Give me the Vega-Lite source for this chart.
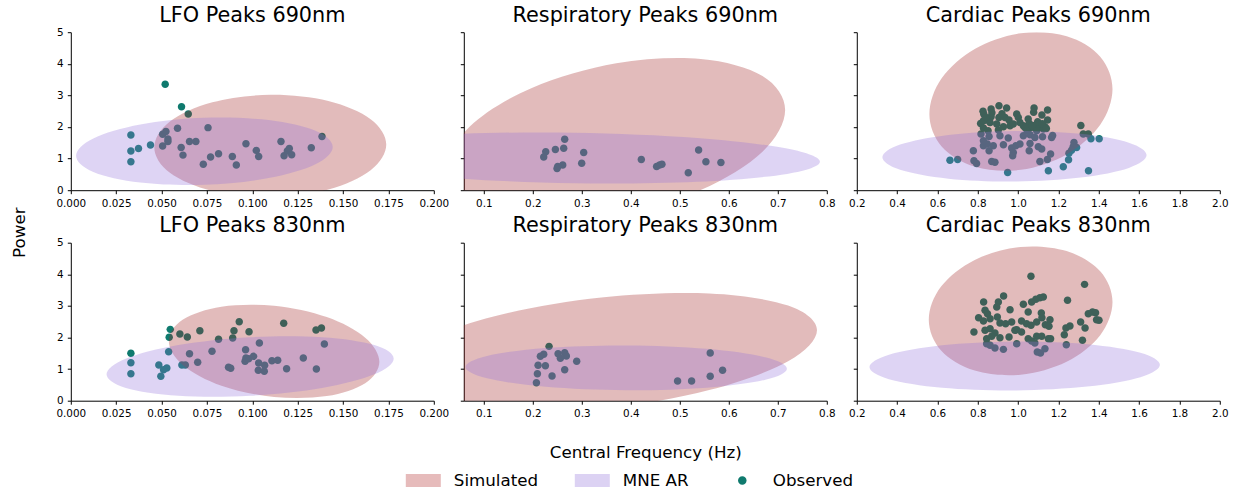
{
  "$schema": "https://vega.github.io/schema/vega-lite/v6.json",
  "background": "white",
  "padding": {"left": 10.8, "top": 4.2, "right": 5, "bottom": 5},
  "datasets": {
    "pts": [
      {"panel":"L690","kind":"Observed","x":0.052,"y":3.35},{"panel":"L690","kind":"Observed","x":0.061,"y":2.64},{"panel":"L690","kind":"Observed","x":0.0647,"y":2.41},{"panel":"L690","kind":"Observed","x":0.0331,"y":1.75},{"panel":"L690","kind":"Observed","x":0.0331,"y":1.24},{"panel":"L690","kind":"Observed","x":0.0331,"y":0.9},{"panel":"L690","kind":"Observed","x":0.0373,"y":1.32},{"panel":"L690","kind":"Observed","x":0.0439,"y":1.43},{"panel":"L690","kind":"Observed","x":0.0506,"y":1.77},{"panel":"L690","kind":"Observed","x":0.0524,"y":1.86},{"panel":"L690","kind":"Observed","x":0.0535,"y":1.62},{"panel":"L690","kind":"Observed","x":0.0535,"y":1.54},{"panel":"L690","kind":"Observed","x":0.0506,"y":1.4},{"panel":"L690","kind":"Observed","x":0.0588,"y":1.96},{"panel":"L690","kind":"Observed","x":0.0608,"y":1.35},{"panel":"L690","kind":"Observed","x":0.0618,"y":1.11},{"panel":"L690","kind":"Observed","x":0.0654,"y":1.54},{"panel":"L690","kind":"Observed","x":0.0689,"y":1.54},{"panel":"L690","kind":"Observed","x":0.0756,"y":1.98},{"panel":"L690","kind":"Observed","x":0.073,"y":0.82},{"panel":"L690","kind":"Observed","x":0.077,"y":1.05},{"panel":"L690","kind":"Observed","x":0.0814,"y":1.15},{"panel":"L690","kind":"Observed","x":0.089,"y":1.07},{"panel":"L690","kind":"Observed","x":0.0912,"y":0.8},{"panel":"L690","kind":"Observed","x":0.0965,"y":1.47},{"panel":"L690","kind":"Observed","x":0.1022,"y":1.26},{"panel":"L690","kind":"Observed","x":0.1035,"y":1.07},{"panel":"L690","kind":"Observed","x":0.1158,"y":1.54},{"panel":"L690","kind":"Observed","x":0.1175,"y":1.09},{"panel":"L690","kind":"Observed","x":0.1193,"y":1.24},{"panel":"L690","kind":"Observed","x":0.1204,"y":1.32},{"panel":"L690","kind":"Observed","x":0.1217,"y":1.12},{"panel":"L690","kind":"Observed","x":0.1325,"y":1.34},{"panel":"L690","kind":"Observed","x":0.1384,"y":1.7},
      {"panel":"R690","kind":"Observed","x":0.2651,"y":1.61},{"panel":"R690","kind":"Observed","x":0.2631,"y":1.33},{"panel":"R690","kind":"Observed","x":0.2461,"y":1.29},{"panel":"R690","kind":"Observed","x":0.2264,"y":1.22},{"panel":"R690","kind":"Observed","x":0.2223,"y":1.05},{"panel":"R690","kind":"Observed","x":0.3039,"y":1.19},{"panel":"R690","kind":"Observed","x":0.2998,"y":0.85},{"panel":"R690","kind":"Observed","x":0.2611,"y":0.8},{"panel":"R690","kind":"Observed","x":0.2509,"y":0.75},{"panel":"R690","kind":"Observed","x":0.2495,"y":0.69},{"panel":"R690","kind":"Observed","x":0.4215,"y":0.97},{"panel":"R690","kind":"Observed","x":0.4527,"y":0.75},{"panel":"R690","kind":"Observed","x":0.4588,"y":0.8},{"panel":"R690","kind":"Observed","x":0.4636,"y":0.82},{"panel":"R690","kind":"Observed","x":0.5173,"y":0.55},{"panel":"R690","kind":"Observed","x":0.5384,"y":1.27},{"panel":"R690","kind":"Observed","x":0.5533,"y":0.9},{"panel":"R690","kind":"Observed","x":0.5839,"y":0.88},
      {"panel":"C690","kind":"Observed","x":0.662,"y":0.951},{"panel":"C690","kind":"Observed","x":0.7,"y":0.973},{"panel":"C690","kind":"Observed","x":0.948,"y":0.56},{"panel":"C690","kind":"Observed","x":1.15,"y":0.613},{"panel":"C690","kind":"Observed","x":1.224,"y":0.74},{"panel":"C690","kind":"Observed","x":1.25,"y":0.962},{"panel":"C690","kind":"Observed","x":1.349,"y":0.613},{"panel":"C690","kind":"Observed","x":1.361,"y":1.628},{"panel":"C690","kind":"Observed","x":1.402,"y":1.628},
      {"panel":"C690","kind":"Observed","x":0.905,"y":2.674},{"panel":"C690","kind":"Observed","x":0.943,"y":2.6},{"panel":"C690","kind":"Observed","x":0.866,"y":2.569},{"panel":"C690","kind":"Observed","x":0.826,"y":2.495},{"panel":"C690","kind":"Observed","x":1.079,"y":2.6},{"panel":"C690","kind":"Observed","x":1.077,"y":2.463},{"panel":"C690","kind":"Observed","x":1.146,"y":2.537},{"panel":"C690","kind":"Observed","x":1.118,"y":2.378},{"panel":"C690","kind":"Observed","x":0.905,"y":2.304},{"panel":"C690","kind":"Observed","x":0.935,"y":2.304},{"panel":"C690","kind":"Observed","x":0.955,"y":2.22},{"panel":"C690","kind":"Observed","x":0.993,"y":2.41},{"panel":"C690","kind":"Observed","x":1.001,"y":2.304},{"panel":"C690","kind":"Observed","x":0.866,"y":2.326},{"panel":"C690","kind":"Observed","x":0.844,"y":2.22},{"panel":"C690","kind":"Observed","x":0.814,"y":2.114},{"panel":"C690","kind":"Observed","x":0.828,"y":2.199},{"panel":"C690","kind":"Observed","x":0.861,"y":2.146},{"panel":"C690","kind":"Observed","x":0.894,"y":2.093},{"panel":"C690","kind":"Observed","x":0.96,"y":2.04},{"panel":"C690","kind":"Observed","x":1.009,"y":2.146},{"panel":"C690","kind":"Observed","x":1.026,"y":2.04},{"panel":"C690","kind":"Observed","x":1.055,"y":2.114},{"panel":"C690","kind":"Observed","x":1.064,"y":1.987},{"panel":"C690","kind":"Observed","x":1.083,"y":2.04},{"panel":"C690","kind":"Observed","x":1.108,"y":2.008},{"panel":"C690","kind":"Observed","x":1.133,"y":2.008},{"panel":"C690","kind":"Observed","x":1.146,"y":2.22},{"panel":"C690","kind":"Observed","x":1.097,"y":2.167},{"panel":"C690","kind":"Observed","x":1.034,"y":1.987},{"panel":"C690","kind":"Observed","x":0.828,"y":1.966},{"panel":"C690","kind":"Observed","x":0.851,"y":1.882},{"panel":"C690","kind":"Observed","x":0.902,"y":1.903},{"panel":"C690","kind":"Observed","x":0.927,"y":2.008},{"panel":"C690","kind":"Observed","x":1.311,"y":2.051},{"panel":"C690","kind":"Observed","x":1.323,"y":1.776},{"panel":"C690","kind":"Observed","x":1.348,"y":1.776},{"panel":"C690","kind":"Observed","x":0.976,"y":2.093},{"panel":"C690","kind":"Observed","x":1.045,"y":1.882},{"panel":"C690","kind":"Observed","x":1.092,"y":1.882},{"panel":"C690","kind":"Observed","x":1.125,"y":1.934},{"panel":"C690","kind":"Observed","x":0.83,"y":2.4},{"panel":"C690","kind":"Observed","x":0.84,"y":2.3},{"panel":"C690","kind":"Observed","x":0.87,"y":2.45},{"panel":"C690","kind":"Observed","x":0.92,"y":2.42},{"panel":"C690","kind":"Observed","x":1.05,"y":2.25},{"panel":"C690","kind":"Observed","x":1.12,"y":2.1},{"panel":"C690","kind":"Observed","x":1.14,"y":1.95},{"panel":"C690","kind":"Observed","x":1.07,"y":2.05},
      {"panel":"C690","kind":"Observed","x":0.816,"y":1.776},{"panel":"C690","kind":"Observed","x":0.856,"y":1.702},{"panel":"C690","kind":"Observed","x":0.951,"y":1.649},{"panel":"C690","kind":"Observed","x":1.026,"y":1.723},{"panel":"C690","kind":"Observed","x":1.059,"y":1.755},{"panel":"C690","kind":"Observed","x":1.083,"y":1.67},{"panel":"C690","kind":"Observed","x":1.121,"y":1.691},{"panel":"C690","kind":"Observed","x":1.166,"y":1.67},{"panel":"C690","kind":"Observed","x":1.171,"y":1.734},{"panel":"C690","kind":"Observed","x":1.277,"y":1.512},{"panel":"C690","kind":"Observed","x":1.273,"y":1.374},{"panel":"C690","kind":"Observed","x":1.29,"y":1.353},{"panel":"C690","kind":"Observed","x":1.265,"y":1.268},{"panel":"C690","kind":"Observed","x":1.252,"y":1.173},{"panel":"C690","kind":"Observed","x":0.828,"y":1.406},{"panel":"C690","kind":"Observed","x":0.847,"y":1.459},{"panel":"C690","kind":"Observed","x":0.877,"y":1.406},{"panel":"C690","kind":"Observed","x":0.856,"y":1.247},{"panel":"C690","kind":"Observed","x":0.778,"y":1.247},{"panel":"C690","kind":"Observed","x":0.927,"y":1.438},{"panel":"C690","kind":"Observed","x":0.968,"y":1.332},{"panel":"C690","kind":"Observed","x":0.989,"y":1.406},{"panel":"C690","kind":"Observed","x":1.009,"y":1.459},{"panel":"C690","kind":"Observed","x":1.059,"y":1.48},{"panel":"C690","kind":"Observed","x":1.1,"y":1.374},{"panel":"C690","kind":"Observed","x":1.117,"y":1.3},{"panel":"C690","kind":"Observed","x":1.055,"y":1.247},{"panel":"C690","kind":"Observed","x":0.976,"y":1.195},{"panel":"C690","kind":"Observed","x":0.973,"y":1.089},{"panel":"C690","kind":"Observed","x":0.781,"y":0.93},{"panel":"C690","kind":"Observed","x":0.794,"y":0.846},{"panel":"C690","kind":"Observed","x":0.869,"y":0.909},{"panel":"C690","kind":"Observed","x":0.885,"y":0.888},{"panel":"C690","kind":"Observed","x":1.108,"y":0.909},{"panel":"C690","kind":"Observed","x":1.145,"y":0.973},{"panel":"C690","kind":"Observed","x":1.161,"y":1.142},{"panel":"C690","kind":"Observed","x":0.828,"y":1.564},{"panel":"C690","kind":"Observed","x":0.91,"y":1.723},
      {"panel":"L830","kind":"Observed","x":0.0331,"y":1.498},{"panel":"L830","kind":"Observed","x":0.0331,"y":1.203},{"panel":"L830","kind":"Observed","x":0.0331,"y":0.854},{"panel":"L830","kind":"Observed","x":0.0548,"y":2.257},{"panel":"L830","kind":"Observed","x":0.0542,"y":2.004},{"panel":"L830","kind":"Observed","x":0.0601,"y":2.11},{"panel":"L830","kind":"Observed","x":0.0642,"y":2.015},{"panel":"L830","kind":"Observed","x":0.0711,"y":2.215},{"panel":"L830","kind":"Observed","x":0.0814,"y":1.941},{"panel":"L830","kind":"Observed","x":0.0892,"y":1.983},{"panel":"L830","kind":"Observed","x":0.0899,"y":2.215},{"panel":"L830","kind":"Observed","x":0.0928,"y":2.5},{"panel":"L830","kind":"Observed","x":0.0982,"y":2.184},{"panel":"L830","kind":"Observed","x":0.1173,"y":2.447},{"panel":"L830","kind":"Observed","x":0.1351,"y":2.236},{"panel":"L830","kind":"Observed","x":0.1381,"y":2.3},{"panel":"L830","kind":"Observed","x":0.1397,"y":1.793},{"panel":"L830","kind":"Observed","x":0.0539,"y":1.551},{"panel":"L830","kind":"Observed","x":0.0485,"y":1.129},{"panel":"L830","kind":"Observed","x":0.0529,"y":1.034},{"panel":"L830","kind":"Observed","x":0.0511,"y":0.981},{"panel":"L830","kind":"Observed","x":0.0496,"y":0.77},{"panel":"L830","kind":"Observed","x":0.0612,"y":1.129},{"panel":"L830","kind":"Observed","x":0.0631,"y":1.129},{"panel":"L830","kind":"Observed","x":0.0654,"y":1.487},{"panel":"L830","kind":"Observed","x":0.0699,"y":1.213},{"panel":"L830","kind":"Observed","x":0.0778,"y":1.561},{"panel":"L830","kind":"Observed","x":0.0869,"y":1.055},{"panel":"L830","kind":"Observed","x":0.0881,"y":1.023},{"panel":"L830","kind":"Observed","x":0.0963,"y":1.614},{"panel":"L830","kind":"Observed","x":0.0965,"y":1.35},{"panel":"L830","kind":"Observed","x":0.096,"y":1.245},{"panel":"L830","kind":"Observed","x":0.098,"y":1.329},{"panel":"L830","kind":"Observed","x":0.1007,"y":1.403},{"panel":"L830","kind":"Observed","x":0.1039,"y":1.825},{"panel":"L830","kind":"Observed","x":0.1035,"y":1.192},{"panel":"L830","kind":"Observed","x":0.1033,"y":0.96},{"panel":"L830","kind":"Observed","x":0.1068,"y":1.118},{"panel":"L830","kind":"Observed","x":0.1066,"y":0.928},{"panel":"L830","kind":"Observed","x":0.1108,"y":1.266},{"panel":"L830","kind":"Observed","x":0.114,"y":1.276},{"panel":"L830","kind":"Observed","x":0.1189,"y":1.013},{"panel":"L830","kind":"Observed","x":0.1281,"y":1.35},{"panel":"L830","kind":"Observed","x":0.1353,"y":1.002},
      {"panel":"R830","kind":"Observed","x":0.2332,"y":1.719},{"panel":"R830","kind":"Observed","x":0.2223,"y":1.466},{"panel":"R830","kind":"Observed","x":0.2155,"y":1.403},{"panel":"R830","kind":"Observed","x":0.2516,"y":1.487},{"panel":"R830","kind":"Observed","x":0.2651,"y":1.519},{"panel":"R830","kind":"Observed","x":0.2685,"y":1.414},{"panel":"R830","kind":"Observed","x":0.2563,"y":1.34},{"panel":"R830","kind":"Observed","x":0.2108,"y":1.118},{"panel":"R830","kind":"Observed","x":0.2257,"y":1.108},{"panel":"R830","kind":"Observed","x":0.2896,"y":1.245},{"panel":"R830","kind":"Observed","x":0.2651,"y":0.981},{"panel":"R830","kind":"Observed","x":0.2094,"y":0.854},{"panel":"R830","kind":"Observed","x":0.2393,"y":0.781},{"panel":"R830","kind":"Observed","x":0.2074,"y":0.57},{"panel":"R830","kind":"Observed","x":0.5621,"y":1.508},{"panel":"R830","kind":"Observed","x":0.5873,"y":0.96},{"panel":"R830","kind":"Observed","x":0.5621,"y":0.77},{"panel":"R830","kind":"Observed","x":0.4955,"y":0.622},{"panel":"R830","kind":"Observed","x":0.5241,"y":0.622},
      {"panel":"C830","kind":"Observed","x":1.0637,"y":3.935},{"panel":"C830","kind":"Observed","x":1.3295,"y":3.681},{"panel":"C830","kind":"Observed","x":0.928,"y":3.312},{"panel":"C830","kind":"Observed","x":0.829,"y":3.122},{"panel":"C830","kind":"Observed","x":0.902,"y":3.122},{"panel":"C830","kind":"Observed","x":1.125,"y":3.281},{"panel":"C830","kind":"Observed","x":1.108,"y":3.259},{"panel":"C830","kind":"Observed","x":1.088,"y":3.207},{"panel":"C830","kind":"Observed","x":1.067,"y":3.122},{"panel":"C830","kind":"Observed","x":1.026,"y":3.049},{"panel":"C830","kind":"Observed","x":1.245,"y":3.175},{"panel":"C830","kind":"Observed","x":0.894,"y":2.964},{"panel":"C830","kind":"Observed","x":0.96,"y":2.88},{"panel":"C830","kind":"Observed","x":0.836,"y":2.859},{"panel":"C830","kind":"Observed","x":0.848,"y":2.753},{"panel":"C830","kind":"Observed","x":1.05,"y":2.806},{"panel":"C830","kind":"Observed","x":1.115,"y":2.774},{"panel":"C830","kind":"Observed","x":1.348,"y":2.753},{"panel":"C830","kind":"Observed","x":1.369,"y":2.806},{"panel":"C830","kind":"Observed","x":1.384,"y":2.785},{"panel":"C830","kind":"Observed","x":0.804,"y":2.627},{"panel":"C830","kind":"Observed","x":0.828,"y":2.521},{"panel":"C830","kind":"Observed","x":0.861,"y":2.595},{"panel":"C830","kind":"Observed","x":0.897,"y":2.648},{"panel":"C830","kind":"Observed","x":0.91,"y":2.458},{"panel":"C830","kind":"Observed","x":0.938,"y":2.437},{"panel":"C830","kind":"Observed","x":0.968,"y":2.489},{"panel":"C830","kind":"Observed","x":0.993,"y":2.247},{"panel":"C830","kind":"Observed","x":1.017,"y":2.521},{"panel":"C830","kind":"Observed","x":1.042,"y":2.437},{"panel":"C830","kind":"Observed","x":1.064,"y":2.384},{"panel":"C830","kind":"Observed","x":1.092,"y":2.489},{"panel":"C830","kind":"Observed","x":1.118,"y":2.627},{"panel":"C830","kind":"Observed","x":1.135,"y":2.405},{"panel":"C830","kind":"Observed","x":1.158,"y":2.563},{"panel":"C830","kind":"Observed","x":1.153,"y":2.352},{"panel":"C830","kind":"Observed","x":1.31,"y":2.489},{"panel":"C830","kind":"Observed","x":1.332,"y":2.3},{"panel":"C830","kind":"Observed","x":1.389,"y":2.563},{"panel":"C830","kind":"Observed","x":1.401,"y":2.542},{"panel":"C830","kind":"Observed","x":1.237,"y":2.3},{"panel":"C830","kind":"Observed","x":1.257,"y":2.363},{"panel":"C830","kind":"Observed","x":1.229,"y":2.089},{"panel":"C830","kind":"Observed","x":1.319,"y":1.909},{"panel":"C830","kind":"Observed","x":0.781,"y":2.173},{"panel":"C830","kind":"Observed","x":0.836,"y":2.226},{"panel":"C830","kind":"Observed","x":0.861,"y":2.278},{"panel":"C830","kind":"Observed","x":0.885,"y":2.141},{"panel":"C830","kind":"Observed","x":0.91,"y":1.994},{"panel":"C830","kind":"Observed","x":0.955,"y":2.015},{"panel":"C830","kind":"Observed","x":0.984,"y":2.226},{"panel":"C830","kind":"Observed","x":1.017,"y":2.173},{"panel":"C830","kind":"Observed","x":1.05,"y":1.962},{"panel":"C830","kind":"Observed","x":1.092,"y":2.036},{"panel":"C830","kind":"Observed","x":1.117,"y":2.036},{"panel":"C830","kind":"Observed","x":1.15,"y":1.962},{"panel":"C830","kind":"Observed","x":1.161,"y":1.962},{"panel":"C830","kind":"Observed","x":0.844,"y":1.962},{"panel":"C830","kind":"Observed","x":0.869,"y":2.036},{"panel":"C830","kind":"Observed","x":0.844,"y":1.804},{"panel":"C830","kind":"Observed","x":0.885,"y":1.667},{"panel":"C830","kind":"Observed","x":0.927,"y":1.624},{"panel":"C830","kind":"Observed","x":0.993,"y":1.804},{"panel":"C830","kind":"Observed","x":1.083,"y":1.825},{"panel":"C830","kind":"Observed","x":1.095,"y":1.54},{"panel":"C830","kind":"Observed","x":1.111,"y":1.508},{"panel":"C830","kind":"Observed","x":1.133,"y":1.646},{"panel":"C830","kind":"Observed","x":1.239,"y":1.772},{"panel":"C830","kind":"Observed","x":0.861,"y":1.751},{"panel":"C830","kind":"Observed","x":1.067,"y":1.888}
    ],
    "ell": [
      {"panel":"L690","kind":"Simulated","i":0,"x":0.1738,"y":1.445},{"panel":"L690","kind":"Simulated","i":1,"x":0.1652,"y":2.249},{"panel":"L690","kind":"Simulated","i":2,"x":0.1419,"y":2.825},{"panel":"L690","kind":"Simulated","i":3,"x":0.1099,"y":3.02},{"panel":"L690","kind":"Simulated","i":4,"x":0.078,"y":2.78},{"panel":"L690","kind":"Simulated","i":5,"x":0.0546,"y":2.171},{"panel":"L690","kind":"Simulated","i":6,"x":0.046,"y":1.355},{"panel":"L690","kind":"Simulated","i":7,"x":0.0546,"y":0.551},{"panel":"L690","kind":"Simulated","i":8,"x":0.078,"y":-0.025},{"panel":"L690","kind":"Simulated","i":9,"x":0.1099,"y":-0.22},{"panel":"L690","kind":"Simulated","i":10,"x":0.1419,"y":0.019},{"panel":"L690","kind":"Simulated","i":11,"x":0.1652,"y":0.629},
      {"panel":"L690","kind":"MNE AR","i":0,"x":0.1443,"y":1.37},{"panel":"L690","kind":"MNE AR","i":1,"x":0.1348,"y":1.881},{"panel":"L690","kind":"MNE AR","i":2,"x":0.109,"y":2.218},{"panel":"L690","kind":"MNE AR","i":3,"x":0.0736,"y":2.29},{"panel":"L690","kind":"MNE AR","i":4,"x":0.0383,"y":2.078},{"panel":"L690","kind":"MNE AR","i":5,"x":0.0124,"y":1.639},{"panel":"L690","kind":"MNE AR","i":6,"x":0.0029,"y":1.09},{"panel":"L690","kind":"MNE AR","i":7,"x":0.0124,"y":0.579},{"panel":"L690","kind":"MNE AR","i":8,"x":0.0383,"y":0.242},{"panel":"L690","kind":"MNE AR","i":9,"x":0.0736,"y":0.17},{"panel":"L690","kind":"MNE AR","i":10,"x":0.109,"y":0.382},{"panel":"L690","kind":"MNE AR","i":11,"x":0.1348,"y":0.821},
      {"panel":"R690","kind":"Simulated","i":0,"x":0.715,"y":2.54},{"panel":"R690","kind":"Simulated","i":1,"x":0.6688,"y":3.6139},{"panel":"R690","kind":"Simulated","i":2,"x":0.5427,"y":4.1542},{"panel":"R690","kind":"Simulated","i":3,"x":0.3704,"y":4.0162},{"panel":"R690","kind":"Simulated","i":4,"x":0.1981,"y":3.2368},{"panel":"R690","kind":"Simulated","i":5,"x":0.072,"y":2.0249},{"panel":"R690","kind":"Simulated","i":6,"x":0.0258,"y":0.7052},{"panel":"R690","kind":"Simulated","i":7,"x":0.072,"y":-0.3687},{"panel":"R690","kind":"Simulated","i":8,"x":0.1981,"y":-0.909},{"panel":"R690","kind":"Simulated","i":9,"x":0.3704,"y":-0.771},{"panel":"R690","kind":"Simulated","i":10,"x":0.5427,"y":0.0084},{"panel":"R690","kind":"Simulated","i":11,"x":0.6688,"y":1.2203},
      {"panel":"R690","kind":"MNE AR","i":0,"x":0.786,"y":0.9},{"panel":"R690","kind":"MNE AR","i":1,"x":0.7189,"y":1.3161},{"panel":"R690","kind":"MNE AR","i":2,"x":0.5355,"y":1.6528},{"panel":"R690","kind":"MNE AR","i":3,"x":0.285,"y":1.82},{"panel":"R690","kind":"MNE AR","i":4,"x":0.0345,"y":1.7728},{"panel":"R690","kind":"MNE AR","i":5,"x":-0.1489,"y":1.5239},{"panel":"R690","kind":"MNE AR","i":6,"x":-0.216,"y":1.14},{"panel":"R690","kind":"MNE AR","i":7,"x":-0.1489,"y":0.7239},{"panel":"R690","kind":"MNE AR","i":8,"x":0.0345,"y":0.3872},{"panel":"R690","kind":"MNE AR","i":9,"x":0.285,"y":0.22},{"panel":"R690","kind":"MNE AR","i":10,"x":0.5355,"y":0.2672},{"panel":"R690","kind":"MNE AR","i":11,"x":0.7189,"y":0.5161},
      {"panel":"C690","kind":"Simulated","i":0,"x":1.468,"y":3.2},{"panel":"C690","kind":"Simulated","i":1,"x":1.4072,"y":4.2265},{"panel":"C690","kind":"Simulated","i":2,"x":1.241,"y":4.872},{"panel":"C690","kind":"Simulated","i":3,"x":1.014,"y":4.964},{"panel":"C690","kind":"Simulated","i":4,"x":0.787,"y":4.477},{"panel":"C690","kind":"Simulated","i":5,"x":0.6208,"y":3.5425},{"panel":"C690","kind":"Simulated","i":6,"x":0.56,"y":2.41},{"panel":"C690","kind":"Simulated","i":7,"x":0.6208,"y":1.3835},{"panel":"C690","kind":"Simulated","i":8,"x":0.787,"y":0.738},{"panel":"C690","kind":"Simulated","i":9,"x":1.014,"y":0.646},{"panel":"C690","kind":"Simulated","i":10,"x":1.241,"y":1.133},{"panel":"C690","kind":"Simulated","i":11,"x":1.4072,"y":2.0675},
      {"panel":"C690","kind":"MNE AR","i":0,"x":1.637,"y":1.11},{"panel":"C690","kind":"MNE AR","i":1,"x":1.5492,"y":1.5053},{"panel":"C690","kind":"MNE AR","i":2,"x":1.3095,"y":1.7853},{"panel":"C690","kind":"MNE AR","i":3,"x":0.982,"y":1.875},{"panel":"C690","kind":"MNE AR","i":4,"x":0.6545,"y":1.7503},{"panel":"C690","kind":"MNE AR","i":5,"x":0.4148,"y":1.4447},{"panel":"C690","kind":"MNE AR","i":6,"x":0.327,"y":1.04},{"panel":"C690","kind":"MNE AR","i":7,"x":0.4148,"y":0.6447},{"panel":"C690","kind":"MNE AR","i":8,"x":0.6545,"y":0.3647},{"panel":"C690","kind":"MNE AR","i":9,"x":0.982,"y":0.275},{"panel":"C690","kind":"MNE AR","i":10,"x":1.3095,"y":0.3997},{"panel":"C690","kind":"MNE AR","i":11,"x":1.5492,"y":0.7053},
      {"panel":"L830","kind":"Simulated","i":0,"x":0.17,"y":1.23},{"panel":"L830","kind":"Simulated","i":1,"x":0.1622,"y":1.9957},{"panel":"L830","kind":"Simulated","i":2,"x":0.141,"y":2.6447},{"panel":"L830","kind":"Simulated","i":3,"x":0.112,"y":3.003},{"panel":"L830","kind":"Simulated","i":4,"x":0.083,"y":2.9747},{"panel":"L830","kind":"Simulated","i":5,"x":0.0618,"y":2.5673},{"panel":"L830","kind":"Simulated","i":6,"x":0.054,"y":1.89},{"panel":"L830","kind":"Simulated","i":7,"x":0.0618,"y":1.1243},{"panel":"L830","kind":"Simulated","i":8,"x":0.083,"y":0.4753},{"panel":"L830","kind":"Simulated","i":9,"x":0.112,"y":0.117},{"panel":"L830","kind":"Simulated","i":10,"x":0.141,"y":0.1453},{"panel":"L830","kind":"Simulated","i":11,"x":0.1622,"y":0.5527},
      {"panel":"L830","kind":"MNE AR","i":0,"x":0.1779,"y":1.329},{"panel":"L830","kind":"MNE AR","i":1,"x":0.1673,"y":1.7588},{"panel":"L830","kind":"MNE AR","i":2,"x":0.1384,"y":2.0069},{"panel":"L830","kind":"MNE AR","i":3,"x":0.0988,"y":2.007},{"panel":"L830","kind":"MNE AR","i":4,"x":0.0593,"y":1.7589},{"panel":"L830","kind":"MNE AR","i":5,"x":0.0303,"y":1.3292},{"panel":"L830","kind":"MNE AR","i":6,"x":0.0197,"y":0.833},{"panel":"L830","kind":"MNE AR","i":7,"x":0.0303,"y":0.4032},{"panel":"L830","kind":"MNE AR","i":8,"x":0.0593,"y":0.1551},{"panel":"L830","kind":"MNE AR","i":9,"x":0.0988,"y":0.155},{"panel":"L830","kind":"MNE AR","i":10,"x":0.1384,"y":0.4031},{"panel":"L830","kind":"MNE AR","i":11,"x":0.1673,"y":0.8328},
      {"panel":"R830","kind":"Simulated","i":0,"x":0.78,"y":2.226},{"panel":"R830","kind":"Simulated","i":1,"x":0.721,"y":3.0107},{"panel":"R830","kind":"Simulated","i":2,"x":0.56,"y":3.3906},{"panel":"R830","kind":"Simulated","i":3,"x":0.34,"y":3.264},{"panel":"R830","kind":"Simulated","i":4,"x":0.12,"y":2.6646},{"panel":"R830","kind":"Simulated","i":5,"x":-0.041,"y":1.7533},{"panel":"R830","kind":"Simulated","i":6,"x":-0.1,"y":0.774},{"panel":"R830","kind":"Simulated","i":7,"x":-0.041,"y":-0.0107},{"panel":"R830","kind":"Simulated","i":8,"x":0.12,"y":-0.3906},{"panel":"R830","kind":"Simulated","i":9,"x":0.34,"y":-0.264},{"panel":"R830","kind":"Simulated","i":10,"x":0.56,"y":0.3354},{"panel":"R830","kind":"Simulated","i":11,"x":0.721,"y":1.2467},
      {"panel":"R830","kind":"MNE AR","i":0,"x":0.7186,"y":1.014},{"panel":"R830","kind":"MNE AR","i":1,"x":0.6746,"y":1.3725},{"panel":"R830","kind":"MNE AR","i":2,"x":0.5546,"y":1.6419},{"panel":"R830","kind":"MNE AR","i":3,"x":0.3906,"y":1.75},{"panel":"R830","kind":"MNE AR","i":4,"x":0.2266,"y":1.6679},{"panel":"R830","kind":"MNE AR","i":5,"x":0.1066,"y":1.4175},{"panel":"R830","kind":"MNE AR","i":6,"x":0.0626,"y":1.066},{"panel":"R830","kind":"MNE AR","i":7,"x":0.1066,"y":0.7075},{"panel":"R830","kind":"MNE AR","i":8,"x":0.2266,"y":0.4381},{"panel":"R830","kind":"MNE AR","i":9,"x":0.3906,"y":0.33},{"panel":"R830","kind":"MNE AR","i":10,"x":0.5546,"y":0.4121},{"panel":"R830","kind":"MNE AR","i":11,"x":0.6746,"y":0.6625},
      {"panel":"C830","kind":"Simulated","i":0,"x":1.468,"y":3.123},{"panel":"C830","kind":"Simulated","i":1,"x":1.407,"y":4.0965},{"panel":"C830","kind":"Simulated","i":2,"x":1.2403,"y":4.734},{"panel":"C830","kind":"Simulated","i":3,"x":1.0125,"y":4.865},{"panel":"C830","kind":"Simulated","i":4,"x":0.7848,"y":4.454},{"panel":"C830","kind":"Simulated","i":5,"x":0.618,"y":3.6115},{"panel":"C830","kind":"Simulated","i":6,"x":0.557,"y":2.563},{"panel":"C830","kind":"Simulated","i":7,"x":0.618,"y":1.5895},{"panel":"C830","kind":"Simulated","i":8,"x":0.7848,"y":0.952},{"panel":"C830","kind":"Simulated","i":9,"x":1.0125,"y":0.821},{"panel":"C830","kind":"Simulated","i":10,"x":1.2403,"y":1.232},{"panel":"C830","kind":"Simulated","i":11,"x":1.407,"y":2.0745},
      {"panel":"C830","kind":"MNE AR","i":0,"x":1.703,"y":1.137},{"panel":"C830","kind":"MNE AR","i":1,"x":1.6065,"y":1.5195},{"panel":"C830","kind":"MNE AR","i":2,"x":1.343,"y":1.7897},{"panel":"C830","kind":"MNE AR","i":3,"x":0.983,"y":1.875},{"panel":"C830","kind":"MNE AR","i":4,"x":0.623,"y":1.7527},{"panel":"C830","kind":"MNE AR","i":5,"x":0.3595,"y":1.4555},{"panel":"C830","kind":"MNE AR","i":6,"x":0.263,"y":1.063},{"panel":"C830","kind":"MNE AR","i":7,"x":0.3595,"y":0.6805},{"panel":"C830","kind":"MNE AR","i":8,"x":0.623,"y":0.4103},{"panel":"C830","kind":"MNE AR","i":9,"x":0.983,"y":0.325},{"panel":"C830","kind":"MNE AR","i":10,"x":1.343,"y":0.4473},{"panel":"C830","kind":"MNE AR","i":11,"x":1.6065,"y":0.7445}
    ]
  },
  "columns": 3,
  "bounds": "flush",
  "spacing": {"row": 52.5, "column": 30},
  "concat": [
    {
      "width": 363, "height": 158, "title": "LFO Peaks 690nm",
      "encoding": {
        "x": {"field": "x", "type": "quantitative", "title": null, "scale": {"domain": [0, 0.2], "nice": false, "zero": false}, "axis": {"values": [0, 0.025, 0.05, 0.075, 0.1, 0.125, 0.15, 0.175, 0.2], "format": ".3f"}},
        "y": {"field": "y", "type": "quantitative", "title": "Power", "scale": {"domain": [0, 5], "nice": false}, "axis": {"values": [0, 1, 2, 3, 4, 5], "format": "d", "titleX": -46.7, "titleY": 200, "titleBaseline": "alphabetic", "titleAngle": 270, "titleAlign": "center"}}
      },
      "layer": [
        {"data": {"name": "pts"}, "transform": [{"filter": "datum.panel == 'L690'"}], "mark": {"type": "point", "filled": true, "opacity": 1, "size": 950},
         "encoding": {
           "color": {"field": "kind", "type": "nominal", "title": null, "scale": {"domain": ["Simulated", "MNE AR", "Observed"], "range": ["#e6bbbb", "#dcd2f3", "#0f7a6e"]}, "legend": {"orient": "none", "direction": "horizontal", "legendX": 335, "legendY": 430.5}},
           "shape": {"field": "kind", "type": "nominal", "title": null, "scale": {"domain": ["Simulated", "MNE AR", "Observed"], "range": ["M-1,-0.371H1V0.371H-1Z", "M-1,-0.371H1V0.371H-1Z", "M-0.243,0A0.243,0.243,0,1,0,0.243,0A0.243,0.243,0,1,0,-0.243,0Z"]}, "legend": {"orient": "none", "direction": "horizontal", "legendX": 335, "legendY": 430.5}}
         }},
        {"data": {"name": "ell"}, "transform": [{"filter": "datum.panel == 'L690' && datum.kind == 'Simulated'"}], "mark": {"type": "line", "interpolate": "cardinal-closed", "fill": "#a52a2a", "fillOpacity": 0.32, "strokeWidth": 0, "strokeOpacity": 0, "clip": true}, "encoding": {"order": {"field": "i", "type": "quantitative"}}},
        {"data": {"name": "ell"}, "transform": [{"filter": "datum.panel == 'L690' && datum.kind == 'MNE AR'"}], "mark": {"type": "line", "interpolate": "cardinal-closed", "fill": "#9370db", "fillOpacity": 0.3, "strokeWidth": 0, "strokeOpacity": 0, "clip": true}, "encoding": {"order": {"field": "i", "type": "quantitative"}}}
      ]
    },
    {
      "width": 363, "height": 158, "title": "Respiratory Peaks 690nm",
      "encoding": {
        "x": {"field": "x", "type": "quantitative", "title": null, "scale": {"domain": [0.0592, 0.8], "nice": false, "zero": false}, "axis": {"values": [0.1, 0.2, 0.3, 0.4, 0.5, 0.6, 0.7, 0.8], "format": ".1f"}},
        "y": {"field": "y", "type": "quantitative", "title": null, "scale": {"domain": [0, 5], "nice": false}, "axis": {"values": [0, 1, 2, 3, 4, 5], "format": "d", "labelOpacity": 0}}
      },
      "layer": [
        {"data": {"name": "pts"}, "transform": [{"filter": "datum.panel == 'R690'"}], "mark": {"type": "point", "filled": true, "opacity": 1, "size": 950},
         "encoding": {
           "color": {"field": "kind", "type": "nominal", "title": null, "scale": {"domain": ["Simulated", "MNE AR", "Observed"], "range": ["#e6bbbb", "#dcd2f3", "#0f7a6e"]}, "legend": {"orient": "none", "direction": "horizontal", "legendX": 335, "legendY": 430.5}},
           "shape": {"field": "kind", "type": "nominal", "title": null, "scale": {"domain": ["Simulated", "MNE AR", "Observed"], "range": ["M-1,-0.371H1V0.371H-1Z", "M-1,-0.371H1V0.371H-1Z", "M-0.243,0A0.243,0.243,0,1,0,0.243,0A0.243,0.243,0,1,0,-0.243,0Z"]}, "legend": {"orient": "none", "direction": "horizontal", "legendX": 335, "legendY": 430.5}}
         }},
        {"data": {"name": "ell"}, "transform": [{"filter": "datum.panel == 'R690' && datum.kind == 'Simulated'"}], "mark": {"type": "line", "interpolate": "cardinal-closed", "fill": "#a52a2a", "fillOpacity": 0.32, "strokeWidth": 0, "strokeOpacity": 0, "clip": true}, "encoding": {"order": {"field": "i", "type": "quantitative"}}},
        {"data": {"name": "ell"}, "transform": [{"filter": "datum.panel == 'R690' && datum.kind == 'MNE AR'"}], "mark": {"type": "line", "interpolate": "cardinal-closed", "fill": "#9370db", "fillOpacity": 0.3, "strokeWidth": 0, "strokeOpacity": 0, "clip": true}, "encoding": {"order": {"field": "i", "type": "quantitative"}}}
      ]
    },
    {
      "width": 363, "height": 158, "title": "Cardiac Peaks 690nm",
      "encoding": {
        "x": {"field": "x", "type": "quantitative", "title": null, "scale": {"domain": [0.2, 2.0], "nice": false, "zero": false}, "axis": {"values": [0.2, 0.4, 0.6, 0.8, 1.0, 1.2, 1.4, 1.6, 1.8, 2.0], "format": ".1f"}},
        "y": {"field": "y", "type": "quantitative", "title": null, "scale": {"domain": [0, 5], "nice": false}, "axis": {"values": [0, 1, 2, 3, 4, 5], "format": "d", "labelOpacity": 0}}
      },
      "layer": [
        {"data": {"name": "pts"}, "transform": [{"filter": "datum.panel == 'C690'"}], "mark": {"type": "point", "filled": true, "opacity": 1, "size": 950},
         "encoding": {
           "color": {"field": "kind", "type": "nominal", "title": null, "scale": {"domain": ["Simulated", "MNE AR", "Observed"], "range": ["#e6bbbb", "#dcd2f3", "#0f7a6e"]}, "legend": {"orient": "none", "direction": "horizontal", "legendX": 335, "legendY": 430.5}},
           "shape": {"field": "kind", "type": "nominal", "title": null, "scale": {"domain": ["Simulated", "MNE AR", "Observed"], "range": ["M-1,-0.371H1V0.371H-1Z", "M-1,-0.371H1V0.371H-1Z", "M-0.243,0A0.243,0.243,0,1,0,0.243,0A0.243,0.243,0,1,0,-0.243,0Z"]}, "legend": {"orient": "none", "direction": "horizontal", "legendX": 335, "legendY": 430.5}}
         }},
        {"data": {"name": "ell"}, "transform": [{"filter": "datum.panel == 'C690' && datum.kind == 'Simulated'"}], "mark": {"type": "line", "interpolate": "cardinal-closed", "fill": "#a52a2a", "fillOpacity": 0.32, "strokeWidth": 0, "strokeOpacity": 0, "clip": true}, "encoding": {"order": {"field": "i", "type": "quantitative"}}},
        {"data": {"name": "ell"}, "transform": [{"filter": "datum.panel == 'C690' && datum.kind == 'MNE AR'"}], "mark": {"type": "line", "interpolate": "cardinal-closed", "fill": "#9370db", "fillOpacity": 0.3, "strokeWidth": 0, "strokeOpacity": 0, "clip": true}, "encoding": {"order": {"field": "i", "type": "quantitative"}}}
      ]
    },
    {
      "width": 363, "height": 158, "title": "LFO Peaks 830nm",
      "encoding": {
        "x": {"field": "x", "type": "quantitative", "title": null, "scale": {"domain": [0, 0.2], "nice": false, "zero": false}, "axis": {"values": [0, 0.025, 0.05, 0.075, 0.1, 0.125, 0.15, 0.175, 0.2], "format": ".3f"}},
        "y": {"field": "y", "type": "quantitative", "title": null, "scale": {"domain": [0, 5], "nice": false}, "axis": {"values": [0, 1, 2, 3, 4, 5], "format": "d"}}
      },
      "layer": [
        {"data": {"name": "pts"}, "transform": [{"filter": "datum.panel == 'L830'"}], "mark": {"type": "point", "filled": true, "opacity": 1, "size": 950},
         "encoding": {
           "color": {"field": "kind", "type": "nominal", "title": null, "scale": {"domain": ["Simulated", "MNE AR", "Observed"], "range": ["#e6bbbb", "#dcd2f3", "#0f7a6e"]}, "legend": {"orient": "none", "direction": "horizontal", "legendX": 335, "legendY": 430.5}},
           "shape": {"field": "kind", "type": "nominal", "title": null, "scale": {"domain": ["Simulated", "MNE AR", "Observed"], "range": ["M-1,-0.371H1V0.371H-1Z", "M-1,-0.371H1V0.371H-1Z", "M-0.243,0A0.243,0.243,0,1,0,0.243,0A0.243,0.243,0,1,0,-0.243,0Z"]}, "legend": {"orient": "none", "direction": "horizontal", "legendX": 335, "legendY": 430.5}}
         }},
        {"data": {"name": "ell"}, "transform": [{"filter": "datum.panel == 'L830' && datum.kind == 'Simulated'"}], "mark": {"type": "line", "interpolate": "cardinal-closed", "fill": "#a52a2a", "fillOpacity": 0.32, "strokeWidth": 0, "strokeOpacity": 0, "clip": true}, "encoding": {"order": {"field": "i", "type": "quantitative"}}},
        {"data": {"name": "ell"}, "transform": [{"filter": "datum.panel == 'L830' && datum.kind == 'MNE AR'"}], "mark": {"type": "line", "interpolate": "cardinal-closed", "fill": "#9370db", "fillOpacity": 0.3, "strokeWidth": 0, "strokeOpacity": 0, "clip": true}, "encoding": {"order": {"field": "i", "type": "quantitative"}}}
      ]
    },
    {
      "width": 363, "height": 158, "title": "Respiratory Peaks 830nm",
      "encoding": {
        "x": {"field": "x", "type": "quantitative", "title": "Central Frequency (Hz)", "scale": {"domain": [0.0592, 0.8], "nice": false, "zero": false}, "axis": {"values": [0.1, 0.2, 0.3, 0.4, 0.5, 0.6, 0.7, 0.8], "format": ".1f", "titlePadding": 25}},
        "y": {"field": "y", "type": "quantitative", "title": null, "scale": {"domain": [0, 5], "nice": false}, "axis": {"values": [0, 1, 2, 3, 4, 5], "format": "d", "labelOpacity": 0}}
      },
      "layer": [
        {"data": {"name": "pts"}, "transform": [{"filter": "datum.panel == 'R830'"}], "mark": {"type": "point", "filled": true, "opacity": 1, "size": 950},
         "encoding": {
           "color": {"field": "kind", "type": "nominal", "title": null, "scale": {"domain": ["Simulated", "MNE AR", "Observed"], "range": ["#e6bbbb", "#dcd2f3", "#0f7a6e"]}, "legend": {"orient": "none", "direction": "horizontal", "legendX": 335, "legendY": 430.5}},
           "shape": {"field": "kind", "type": "nominal", "title": null, "scale": {"domain": ["Simulated", "MNE AR", "Observed"], "range": ["M-1,-0.371H1V0.371H-1Z", "M-1,-0.371H1V0.371H-1Z", "M-0.243,0A0.243,0.243,0,1,0,0.243,0A0.243,0.243,0,1,0,-0.243,0Z"]}, "legend": {"orient": "none", "direction": "horizontal", "legendX": 335, "legendY": 430.5}}
         }},
        {"data": {"name": "ell"}, "transform": [{"filter": "datum.panel == 'R830' && datum.kind == 'Simulated'"}], "mark": {"type": "line", "interpolate": "cardinal-closed", "fill": "#a52a2a", "fillOpacity": 0.32, "strokeWidth": 0, "strokeOpacity": 0, "clip": true}, "encoding": {"order": {"field": "i", "type": "quantitative"}}},
        {"data": {"name": "ell"}, "transform": [{"filter": "datum.panel == 'R830' && datum.kind == 'MNE AR'"}], "mark": {"type": "line", "interpolate": "cardinal-closed", "fill": "#9370db", "fillOpacity": 0.3, "strokeWidth": 0, "strokeOpacity": 0, "clip": true}, "encoding": {"order": {"field": "i", "type": "quantitative"}}}
      ]
    },
    {
      "width": 363, "height": 158, "title": "Cardiac Peaks 830nm",
      "encoding": {
        "x": {"field": "x", "type": "quantitative", "title": null, "scale": {"domain": [0.2, 2.0], "nice": false, "zero": false}, "axis": {"values": [0.2, 0.4, 0.6, 0.8, 1.0, 1.2, 1.4, 1.6, 1.8, 2.0], "format": ".1f"}},
        "y": {"field": "y", "type": "quantitative", "title": null, "scale": {"domain": [0, 5], "nice": false}, "axis": {"values": [0, 1, 2, 3, 4, 5], "format": "d", "labelOpacity": 0}}
      },
      "layer": [
        {"data": {"name": "pts"}, "transform": [{"filter": "datum.panel == 'C830'"}], "mark": {"type": "point", "filled": true, "opacity": 1, "size": 950},
         "encoding": {
           "color": {"field": "kind", "type": "nominal", "title": null, "scale": {"domain": ["Simulated", "MNE AR", "Observed"], "range": ["#e6bbbb", "#dcd2f3", "#0f7a6e"]}, "legend": {"orient": "none", "direction": "horizontal", "legendX": 335, "legendY": 430.5}},
           "shape": {"field": "kind", "type": "nominal", "title": null, "scale": {"domain": ["Simulated", "MNE AR", "Observed"], "range": ["M-1,-0.371H1V0.371H-1Z", "M-1,-0.371H1V0.371H-1Z", "M-0.243,0A0.243,0.243,0,1,0,0.243,0A0.243,0.243,0,1,0,-0.243,0Z"]}, "legend": {"orient": "none", "direction": "horizontal", "legendX": 335, "legendY": 430.5}}
         }},
        {"data": {"name": "ell"}, "transform": [{"filter": "datum.panel == 'C830' && datum.kind == 'Simulated'"}], "mark": {"type": "line", "interpolate": "cardinal-closed", "fill": "#a52a2a", "fillOpacity": 0.32, "strokeWidth": 0, "strokeOpacity": 0, "clip": true}, "encoding": {"order": {"field": "i", "type": "quantitative"}}},
        {"data": {"name": "ell"}, "transform": [{"filter": "datum.panel == 'C830' && datum.kind == 'MNE AR'"}], "mark": {"type": "line", "interpolate": "cardinal-closed", "fill": "#9370db", "fillOpacity": 0.3, "strokeWidth": 0, "strokeOpacity": 0, "clip": true}, "encoding": {"order": {"field": "i", "type": "quantitative"}}}
      ]
    }
  ],
  "config": {
    "view": {"stroke": null},
    "font": "DejaVu Sans",
    "title": {"font": "DejaVu Sans", "fontSize": 20.8, "fontWeight": "normal", "color": "#000", "baseline": "alphabetic", "offset": 0.5},
    "axis": {"domainColor": "#000", "domainWidth": 1, "tickColor": "#000", "tickSize": 3.5, "tickWidth": 1, "labelFont": "DejaVu Sans", "labelFontSize": 10.4, "labelColor": "#000", "labelFlush": false, "labelOverlap": false, "grid": false, "titleFont": "DejaVu Sans", "titleFontSize": 16.7, "titleFontWeight": "normal", "titleColor": "#000", "zindex": 1},
    "axisX": {"labelPadding": 4.5},
    "axisY": {"labelPadding": 4.3},
    "legend": {"padding": 0, "columnPadding": 36, "labelOffset": 13, "labelFont": "DejaVu Sans", "labelFontSize": 16.7, "labelColor": "#000", "symbolSize": 1225, "symbolStrokeWidth": 0, "titlePadding": 0}
  }
}
